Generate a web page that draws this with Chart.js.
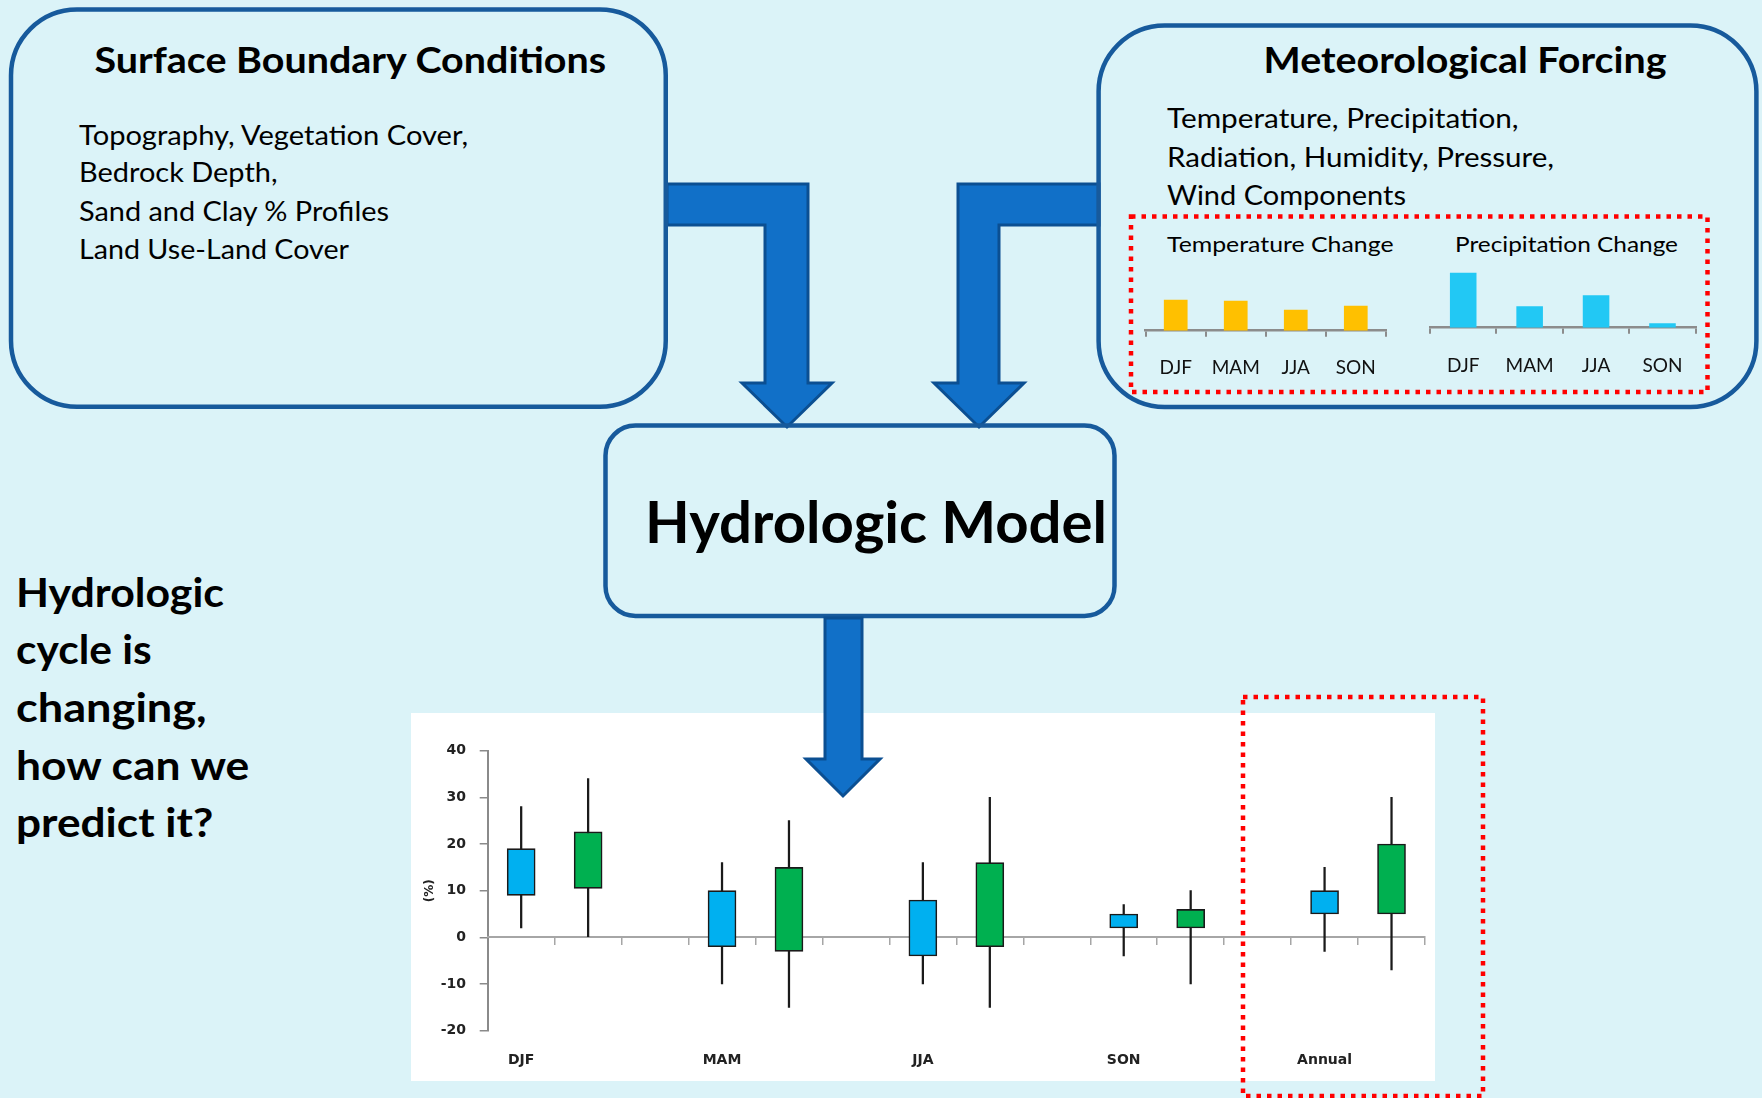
<!DOCTYPE html>
<html>
<head>
<meta charset="utf-8">
<title>Hydrologic Model</title>
<script src="https://cdn.jsdelivr.net/npm/chart.js@4.4.1/dist/chart.umd.min.js"></script>
<style>
  html, body { margin: 0; padding: 0; }
  body { width: 1762px; height: 1098px; background: #dbf3f8; position: relative; overflow: hidden; font-family: Lato, "Open Sans", sans-serif; }
  svg.layer { position: absolute; left: 0; top: 0; }
  canvas.chart { position: absolute; }
  #boxChart { background: #ffffff; }
  #front { pointer-events: none; }
</style>
</head>
<body>

<svg class="layer" id="back" width="1762" height="1098" xmlns="http://www.w3.org/2000/svg">
  <!-- elbow arrows feeding the model -->
  <g fill="#1170c8" stroke="#0b4f92" stroke-width="3" stroke-linejoin="miter">
    <polygon points="667,184 808,184 808,383 832,383 787,427 742,383 765,383 765,225 667,225"/>
    <polygon points="1099,184 958,184 958,383 934,383 979,427 1024,383 999,383 999,225 1099,225"/>
  </g>
  <!-- boxes -->
  <g fill="none" stroke="#175a9c" stroke-width="4.5">
    <rect x="11" y="9.5" width="654.75" height="397.25" rx="66" ry="66"/>
    <rect x="1098.6" y="25.5" width="657.8" height="381.5" rx="66" ry="66"/>
    <rect x="605.5" y="425.5" width="509" height="190.5" rx="30" ry="30"/>
  </g>
  <g font-family="Lato, 'Open Sans', sans-serif" fill="#000">
    <text x="94.5" y="72.7" font-size="36" font-weight="700" textLength="511.5" lengthAdjust="spacingAndGlyphs">Surface Boundary Conditions</text>
    <text x="79" y="145" font-size="27" textLength="389" lengthAdjust="spacingAndGlyphs">Topography, Vegetation Cover,</text>
    <text x="79" y="182.3" font-size="27" textLength="198.5" lengthAdjust="spacingAndGlyphs">Bedrock Depth,</text>
    <text x="79" y="221" font-size="27" textLength="310" lengthAdjust="spacingAndGlyphs">Sand and Clay % Profiles</text>
    <text x="79" y="259.3" font-size="27" textLength="270" lengthAdjust="spacingAndGlyphs">Land Use-Land Cover</text>

    <text x="1263.6" y="73.3" font-size="36" font-weight="700" textLength="403" lengthAdjust="spacingAndGlyphs">Meteorological Forcing</text>
    <text x="1167" y="128.3" font-size="27" textLength="351.6" lengthAdjust="spacingAndGlyphs">Temperature, Precipitation,</text>
    <text x="1167" y="166.7" font-size="27" textLength="387" lengthAdjust="spacingAndGlyphs">Radiation, Humidity, Pressure,</text>
    <text x="1167" y="205" font-size="27" textLength="239" lengthAdjust="spacingAndGlyphs">Wind Components</text>
    <text x="1167" y="251.7" font-size="22" textLength="226.5" lengthAdjust="spacingAndGlyphs">Temperature Change</text>
    <text x="1455" y="251.7" font-size="22" textLength="223" lengthAdjust="spacingAndGlyphs">Precipitation Change</text>

    <text x="645" y="543.3" font-size="58" font-weight="700" textLength="462" lengthAdjust="spacingAndGlyphs">Hydrologic Model</text>

    <g font-size="39.5" font-weight="700">
      <text x="16" y="606.7" textLength="208" lengthAdjust="spacingAndGlyphs">Hydrologic</text>
      <text x="16" y="664.3" textLength="135.7" lengthAdjust="spacingAndGlyphs">cycle is</text>
      <text x="16" y="722" textLength="190.7" lengthAdjust="spacingAndGlyphs">changing,</text>
      <text x="16" y="779.7" textLength="233.3" lengthAdjust="spacingAndGlyphs">how can we</text>
      <text x="16" y="837.3" textLength="197.3" lengthAdjust="spacingAndGlyphs">predict it?</text>
    </g>
  </g>
</svg>

<canvas class="chart" id="tempChart" width="255" height="130" style="left:1140px;top:255px"></canvas>
<canvas class="chart" id="precipChart" width="280" height="135" style="left:1425px;top:250px"></canvas>
<canvas class="chart" id="boxChart" width="1024" height="368" style="left:411px;top:713px"></canvas>

<svg class="layer" id="front" width="1762" height="1098" xmlns="http://www.w3.org/2000/svg">
  <polygon points="825,618 862,618 862,759 880,759 843,796 806,759 825,759" fill="#1170c8" stroke="#0b4f92" stroke-width="3"/>
  <g fill="none" stroke="#ff0000" stroke-width="4.5" stroke-dasharray="4.5 6">
    <rect x="1131" y="216.5" width="576.5" height="175.5"/>
    <rect x="1243" y="697" width="240" height="399"/>
  </g>
</svg>

<script>
// Seasonal change bars (forcing panel)
const seasons = ['DJF', 'MAM', 'JJA', 'SON'];
const tempChange = [3.1, 3.0, 2.1, 2.5];
const precipChange = [11, 4.3, 6.5, 0.9];

// Projected change in the hydrologic output (%), two ensembles per period
const periods = ['DJF', 'MAM', 'JJA', 'SON', 'Annual'];
const aLow  = [2, -10, -10, -4, -3];
const aQ1   = [9, -2, -4, 2, 5];
const aQ3   = [19, 10, 8, 5, 10];
const aHigh = [28, 16, 16, 7, 15];
const bLow  = [0, -15, -15, -10, -7];
const bQ1   = [10.5, -3, -2, 2, 5];
const bQ3   = [22.6, 15, 16, 6, 20];
const bHigh = [34, 25, 30, 10, 30];
const yMin = -20, yMax = 40, yStep = 10;

Chart.defaults.animation = false;
Chart.defaults.plugins.legend.display = false;
Chart.defaults.plugins.tooltip.enabled = false;

function miniBars(id, values, color, opts) {
  return new Chart(document.getElementById(id), {
    type: 'bar',
    data: {
      labels: seasons,
      datasets: [{ data: values, backgroundColor: color, borderWidth: 0,
                   barPercentage: opts.barPct, categoryPercentage: 1 }]
    },
    options: {
      responsive: false,
      layout: { padding: opts.padding },
      scales: {
        y: { display: false, min: 0, max: opts.yMax },
        x: {
          offset: true,
          border: { display: true, color: '#8c8c8c', width: 2.5 },
          grid: { offset: true, drawOnChartArea: false, drawTicks: true, tickLength: 6, color: '#8c8c8c', lineWidth: 2 },
          ticks: { color: '#111', padding: opts.labelPad, maxRotation: 0, autoSkip: false,
                   font: { family: 'Lato, "Open Sans", sans-serif', size: 19 } },
          afterFit: s => { s.height = opts.axisHeight; s.paddingLeft = 0; s.paddingRight = 0; }
        }
      }
    }
  });
}

miniBars('tempChart', tempChange, '#ffc000',
  { barPct: 0.395, yMax: 6, padding: { left: 5.7, right: 9.2, top: 15.7, bottom: 0 }, axisHeight: 54.3, labelPad: 19.6 });
miniBars('precipChart', precipChange, '#22c8f4',
  { barPct: 0.4, yMax: 14, padding: { left: 5, right: 9.3, top: 7.7, bottom: 0 }, axisHeight: 57.3, labelPad: 20.6 });

// Box chart: three slots per period (ensemble A, ensemble B, gap)
const SLOTS = periods.length * 3 - 1;
const slotLabels = Array.from({ length: SLOTS }, (_, k) => (k % 3 === 0 ? periods[k / 3] : ''));
function place(lo, hi, offset) {
  const out = new Array(SLOTS).fill(null);
  periods.forEach((_, i) => { out[3 * i + offset] = [lo[i], hi[i]]; });
  return out;
}
const boxFont = { family: '"DejaVu Sans", Verdana, sans-serif', size: 14, weight: 'bold' };

new Chart(document.getElementById('boxChart'), {
  type: 'bar',
  data: {
    labels: slotLabels,
    datasets: [
      { data: place(aLow, aHigh, 0), backgroundColor: '#1a1a1a', barThickness: 1.6, grouped: false, order: 3 },
      { data: place(bLow, bHigh, 1), backgroundColor: '#1a1a1a', barThickness: 1.6, grouped: false, order: 3 },
      { data: place(aQ1, aQ3, 0), backgroundColor: '#00b0f0', borderColor: '#1a1a1a', borderWidth: 1.6,
        borderSkipped: false, barThickness: 28, grouped: false, order: 1 },
      { data: place(bQ1, bQ3, 1), backgroundColor: '#00b050', borderColor: '#1a1a1a', borderWidth: 1.6,
        borderSkipped: false, barThickness: 28, grouped: false, order: 1 }
    ]
  },
  options: {
    responsive: false,
    layout: { padding: { top: 37.7, right: 10, bottom: 50.3, left: 0 } },
    scales: {
      y: {
        min: yMin, max: yMax,
        ticks: { stepSize: yStep, color: '#222', padding: 13.7, font: boxFont },
        border: { color: '#8a8a8a', width: 2 },
        grid: { drawOnChartArea: false, drawTicks: true, tickLength: 8, color: '#8a8a8a', lineWidth: 1.5 },
        title: { display: true, text: '(%)', color: '#222', padding: { top: 11.6, bottom: 0 },
                 font: { family: '"DejaVu Sans", Verdana, sans-serif', size: 12, weight: 'bold' } },
        afterFit: s => { s.width = 76.7; s.paddingTop = 0; s.paddingBottom = 0; }
      },
      x: {
        position: { y: 0 },
        offset: true,
        border: { color: '#a6a6a6', width: 2 },
        grid: { offset: true, drawOnChartArea: false, drawTicks: true, tickLength: 7, color: '#a6a6a6', lineWidth: 1.5 },
        ticks: { color: '#222', padding: 107.8, maxRotation: 0, autoSkip: false, font: boxFont },
        afterFit: s => { s.paddingLeft = 0; s.paddingRight = 0; }
      }
    }
  }
});
</script>
</body>
</html>
